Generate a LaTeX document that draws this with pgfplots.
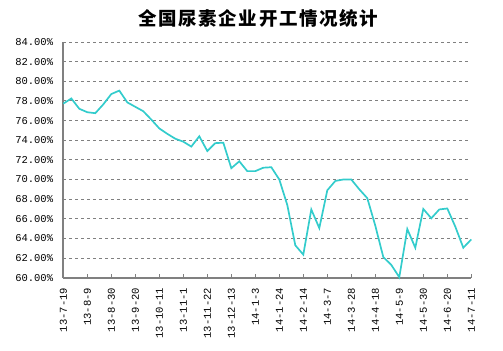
\documentclass[border=0pt]{standalone}
\usepackage{pgfplots}
\pgfplotsset{compat=1.18}
\usepackage{fontspec}
\setmainfont{Liberation Mono}
\newfontfamily\cjk[LetterSpace=9]{Noto Sans CJK SC}
\definecolor{lineC}{RGB}{51,204,204}
\definecolor{axC}{RGB}{128,128,128}
\begin{document}
\begin{tikzpicture}[x=1bp,y=1bp]
\path[use as bounding box] (-63.3bp,-73.3bp) rectangle (439.7bp,277.7bp);
\node[font={\cjk\bfseries\fontsize{18.5bp}{20bp}\selectfont}] at (195bp,259bp) {全国尿素企业开工情况统计};
\begin{axis}[
  at={(0,0)}, anchor=south west,
  scale only axis, width=408bp, height=235.7bp,
  xmin=0, xmax=51, ymin=60, ymax=84,
  axis lines=left,
  axis line style={-, axC, line width=2bp},
  xtick={0,3,...,51},
  xticklabels={13-7-19,13-8-9,13-8-30,13-9-20,13-10-11,13-11-1,13-11-22,13-12-13,14-1-3,14-1-24,14-2-14,14-3-7,14-3-28,14-4-18,14-5-9,14-5-30,14-6-20,14-7-11},
  x tick label style={rotate=90, anchor=east, font=\fontsize{10.5bp}{12bp}\selectfont, inner sep=0pt, xshift=0bp},
  xtick style={axC, line width=1.5bp},
  tick align=inside,
  major tick length=3.5bp,
  ytick={60,62,...,84},
  yticklabels={60.00\%,62.00\%,64.00\%,66.00\%,68.00\%,70.00\%,72.00\%,74.00\%,76.00\%,78.00\%,80.00\%,82.00\%,84.00\%},
  y tick label style={font=\fontsize{10.5bp}{12bp}\selectfont, inner sep=0pt, anchor=east},
  ytick style={draw=none},
  xticklabel shift=10bp,
  yticklabel shift=10bp,
  ymajorgrids,
  grid style={axC, line width=0.9bp, dash pattern=on 3bp off 3bp},
  clip=false,
]
\addplot[lineC, line width=1.7bp, mark=none] coordinates {
(0,77.72)(1,78.25)(2,77.2)(3,76.85)(4,76.75)(5,77.65)(6,78.7)(7,79.05)(8,77.85)(9,77.4)
(10,76.95)(11,76.1)(12,75.2)(13,74.65)(14,74.15)(15,73.85)(16,73.35)(17,74.4)(18,72.9)(19,73.7)
(20,73.75)(21,71.15)(22,71.85)(23,70.85)(24,70.85)(25,71.2)(26,71.25)(27,70.0)(28,67.4)(29,63.3)
(30,62.35)(31,66.95)(32,65.05)(33,68.9)(34,69.85)(35,70.0)(36,70.0)(37,69.0)(38,68.1)(39,65.3)
(40,62.1)(41,61.3)(42,60.05)(43,64.95)(44,63.05)(45,67.0)(46,66.05)(47,66.95)(48,67.05)(49,65.2)
(50,63.05)(51,63.9)
};
\end{axis}
\end{tikzpicture}
\end{document}
